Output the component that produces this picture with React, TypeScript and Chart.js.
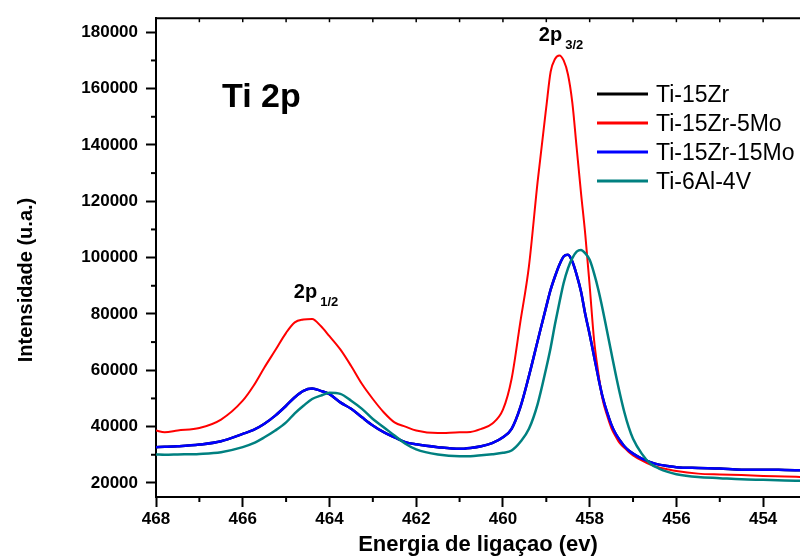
import { useEffect, useRef } from "react";
import { Chart, registerables } from "chart.js";

Chart.register(...registerables);

// Binding energy grid (eV), shared by every spectrum
const energy = [
  468, 467.8, 467.5, 467, 466.5, 466, 465.75, 465.5, 465.25, 465,
  464.8, 464.6, 464.4, 464.2, 464, 463.75, 463.5, 463.25, 463, 462.75,
  462.5, 462.25, 462, 461.5, 461, 460.75, 460.5, 460.25, 460, 459.8,
  459.6, 459.4, 459.2, 459, 458.9, 458.8, 458.7, 458.6, 458.5, 458.4,
  458.3, 458.2, 458.1, 458, 457.9, 457.8, 457.7, 457.6, 457.5, 457.4,
  457.3, 457.2, 457.1, 457, 456.8, 456.6, 456.4, 456.2, 456, 455.5,
  455, 454.5, 454, 453.5, 453.1,
];

// Intensities (u.a.)
const ti15Zr = [
  32700, 32800, 33000, 33600, 34800, 37400, 38800, 41000, 43900, 47400,
  50400, 52700, 53500, 52700, 51500, 48600, 46300, 43300, 40400, 38000,
  36200, 34500, 33700, 32700, 32100, 32400, 33000, 34100, 36200, 39200,
  46800, 58000, 70400, 82700, 88600, 93300, 97400, 100400, 101000, 98600,
  93900, 88000, 79800, 72700, 65100, 57400, 50400, 45100, 40700, 37400,
  35100, 33000, 31500, 30400, 28600, 27400, 26500, 26000, 25600, 25300,
  25100, 24700, 24700, 24600, 24500,
];
const ti15Zr5Mo = [
  38600, 38000, 38600, 39500, 42500, 49200, 54500, 61000, 67100, 73300,
  77000, 78000, 78200, 75700, 72100, 67400, 61500, 55100, 49800, 45100,
  41500, 40000, 38600, 37700, 38000, 38100, 39200, 41000, 46000, 57000,
  77000, 97000, 127000, 153500, 166000, 170500, 171800, 170000, 165000, 155000,
  139000, 123000, 108000, 90000, 71000, 59000, 49500, 44000, 39500, 36500,
  34000, 32500, 31000, 29800, 28000, 26500, 25500, 24800, 24200, 23300,
  23000, 22800, 22500, 22300, 22100,
];
const ti15Zr15Mo = [
  32700, 32800, 33000, 33600, 34800, 37400, 38800, 41000, 43900, 47400,
  50400, 52700, 53500, 52700, 51500, 48600, 46300, 43300, 40400, 38000,
  36200, 34500, 33700, 32700, 32100, 32400, 33000, 34100, 36200, 39200,
  46800, 58000, 70400, 82700, 88600, 93300, 97400, 100400, 101000, 98600,
  93900, 88000, 79800, 72700, 65100, 57400, 50400, 45100, 40700, 37400,
  35100, 33000, 31500, 30400, 28600, 27400, 26500, 26000, 25600, 25300,
  25100, 24700, 24700, 24600, 24500,
];
const ti6Al4V = [
  30100, 30000, 30100, 30300, 30900, 32700, 34100, 36200, 38600, 41500,
  44700, 47400, 49800, 51000, 52000, 51600, 49200, 46300, 42700, 39800,
  36800, 33900, 31900, 30100, 29500, 29500, 29800, 30200, 30700, 31500,
  34500, 39200, 48000, 60900, 68000, 76300, 83900, 91000, 96200, 99800,
  102100, 102700, 101500, 99200, 94500, 88600, 81600, 73900, 66200, 58600,
  51500, 45100, 39800, 35700, 30400, 26800, 25100, 23900, 23100, 22100,
  21700, 21300, 21100, 20900, 20700,
];

const seriesNames = ["Ti-15Zr", "Ti-15Zr-5Mo", "Ti-15Zr-15Mo", "Ti-6Al-4V"];
const seriesColors = ["#000000", "#ff0000", "#0000ff", "#008080"];
const seriesValues = [ti15Zr, ti15Zr5Mo, ti15Zr15Mo, ti6Al4V];

const xTicks = [468, 466, 464, 462, 460, 458, 456, 454];
const xMinorTicks = [467, 465, 463, 461, 459, 457, 455];
const yTicks = [20000, 40000, 60000, 80000, 100000, 120000, 140000, 160000, 180000];
const yMinorTicks = [30000, 50000, 70000, 90000, 110000, 130000, 150000, 170000];

// Peak labels: [main, subscript, energy of the peak, intensity at the label baseline]
const peakLabels: [string, string, number, number][] = [
  ["2p", "3/2", 458.66, 177000],
  ["2p", "1/2", 464.31, 85700],
];

const FONT = "'Liberation Sans', Arial, Helvetica, sans-serif";

const decorations = {
  id: "decorations",
  afterDraw(chart: any) {
    const { ctx, chartArea: a } = chart;
    const x = chart.scales.x;
    const y = chart.scales.y;
    ctx.save();
    ctx.strokeStyle = "#000";
    ctx.fillStyle = "#000";

    // top frame line with small inward ticks
    ctx.lineWidth = 2;
    ctx.beginPath();
    ctx.moveTo(a.left - 1, a.top);
    ctx.lineTo(a.right, a.top);
    ctx.stroke();
    ctx.lineWidth = 1.5;
    [...xTicks, ...xMinorTicks].forEach((v) => {
      const px = x.getPixelForValue(v);
      ctx.beginPath();
      ctx.moveTo(px, a.top);
      ctx.lineTo(px, a.top + 4);
      ctx.stroke();
    });

    // minor ticks on the bottom and left axes
    ctx.lineWidth = 2;
    xMinorTicks.forEach((v) => {
      const px = x.getPixelForValue(v);
      ctx.beginPath();
      ctx.moveTo(px, a.bottom);
      ctx.lineTo(px, a.bottom + 5);
      ctx.stroke();
    });
    yMinorTicks.forEach((v) => {
      const py = y.getPixelForValue(v);
      ctx.beginPath();
      ctx.moveTo(a.left, py);
      ctx.lineTo(a.left - 5, py);
      ctx.stroke();
    });

    // axis titles
    ctx.textAlign = "center";
    ctx.textBaseline = "alphabetic";
    ctx.font = `bold 22px ${FONT}`;
    ctx.fillText("Energia de ligaçao (ev)", (a.left + a.right) / 2, 551);
    ctx.save();
    ctx.font = `bold 20px ${FONT}`;
    ctx.translate(32, 280);
    ctx.rotate(-Math.PI / 2);
    ctx.fillText("Intensidade (u.a.)", 0, 0);
    ctx.restore();

    // panel title
    ctx.textAlign = "left";
    ctx.font = `bold 34px ${FONT}`;
    ctx.fillText("Ti 2p", 222, 107);

    // peak labels with subscripts
    peakLabels.forEach(([main, sub, e, v]) => {
      ctx.font = `bold 20px ${FONT}`;
      const wMain = ctx.measureText(main).width;
      ctx.font = `bold 13px ${FONT}`;
      const wSub = ctx.measureText(sub).width;
      const total = wMain + 3 + wSub;
      const cx = x.getPixelForValue(e);
      const by = y.getPixelForValue(v);
      const left = cx - total / 2;
      ctx.font = `bold 20px ${FONT}`;
      ctx.fillText(main, left, by);
      ctx.font = `bold 13px ${FONT}`;
      ctx.fillText(sub, left + wMain + 3, by + 8.5);
    });

    // legend
    ctx.font = `23px ${FONT}`;
    chart.data.datasets.forEach((ds: any, i: number) => {
      const ry = 94 + i * 29;
      ctx.strokeStyle = ds.borderColor;
      ctx.lineWidth = 3;
      ctx.beginPath();
      ctx.moveTo(597, ry);
      ctx.lineTo(648, ry);
      ctx.stroke();
      ctx.fillStyle = "#000";
      ctx.fillText(ds.label, 656, ry + 8);
    });

    ctx.restore();
  },
};

export default function App() {
  const canvasRef = useRef<HTMLCanvasElement | null>(null);

  useEffect(() => {
    const canvas = canvasRef.current;
    if (!canvas) return;
    const order = [4, 3, 2, 1];
    const widths = [2.5, 2, 2.5, 2.5];
    const chart = new Chart(canvas, {
      type: "line",
      data: {
        datasets: seriesNames.map((name, i) => ({
          label: name,
          data: energy.map((e, j) => ({ x: e, y: seriesValues[i][j] })),
          borderColor: seriesColors[i],
          backgroundColor: seriesColors[i],
          borderWidth: widths[i],
          pointRadius: 0,
          cubicInterpolationMode: "monotone" as const,
          fill: false,
          order: order[i],
        })),
      },
      options: {
        responsive: false,
        animation: false,
        events: [],
        layout: { padding: { top: 14, right: 0, left: 0, bottom: 0 } },
        plugins: {
          legend: { display: false },
          tooltip: { enabled: false },
          title: { display: false },
        },
        scales: {
          x: {
            type: "linear",
            reverse: true,
            min: 453.15,
            max: 468,
            afterBuildTicks: (s: any) => {
              s.ticks = xTicks.map((v) => ({ value: v }));
            },
            afterFit: (s: any) => {
              s.height = 61;
            },
            ticks: {
              color: "#000",
              font: { family: FONT, size: 17, weight: "bold" },
              padding: 2,
              maxRotation: 0,
              autoSkip: false,
              callback: (v: any) => String(v),
            },
            grid: {
              drawOnChartArea: false,
              drawTicks: true,
              tickLength: 10,
              tickWidth: 2,
              color: "#000",
            },
            border: { display: true, color: "#000", width: 2 },
          },
          y: {
            type: "linear",
            min: 15000,
            max: 185000,
            afterBuildTicks: (s: any) => {
              s.ticks = yTicks.map((v) => ({ value: v }));
            },
            afterFit: (s: any) => {
              s.width = 156;
            },
            ticks: {
              color: "#000",
              font: { family: FONT, size: 17, weight: "bold" },
              padding: 8,
              autoSkip: false,
              callback: (v: any) => String(v),
            },
            grid: {
              drawOnChartArea: false,
              drawTicks: true,
              tickLength: 10,
              tickWidth: 2,
              color: "#000",
            },
            border: { display: true, color: "#000", width: 2 },
          },
        },
      },
      plugins: [decorations],
    });
    return () => chart.destroy();
  }, []);

  return (
    <div style={{ position: "absolute", left: 0, top: 0, width: 800, height: 558, background: "#fff" }}>
      <canvas ref={canvasRef} width={800} height={558} style={{ display: "block", width: 800, height: 558 }} />
    </div>
  );
}
